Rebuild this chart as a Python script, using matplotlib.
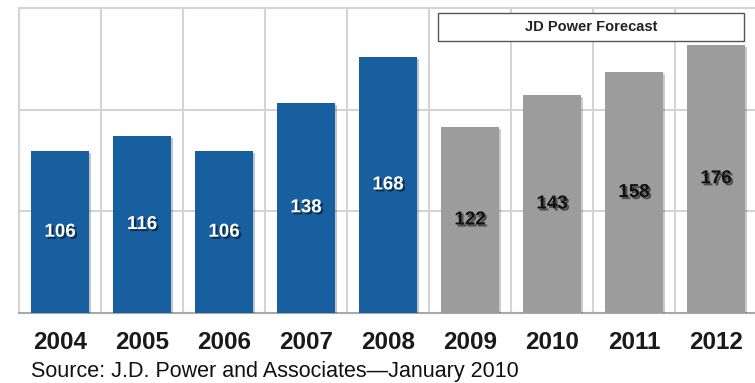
import matplotlib
matplotlib.use('Agg')
import matplotlib.pyplot as plt
import matplotlib.patheffects as pe
from matplotlib.patches import Rectangle

plt.rcParams['font.family'] = ['Liberation Sans', 'DejaVu Sans']

# Data
years = ['2004', '2005', '2006', '2007', '2008', '2009', '2010', '2011', '2012']
values = [106, 116, 106, 138, 168, 122, 143, 158, 176]
is_forecast = [False, False, False, False, False, True, True, True, True]
forecast_label = 'JD Power Forecast'
source_text = 'Source: J.D. Power and Associates\u2014January 2010'

blue = '#185f9f'
gray = '#9c9c9c'
grid_col = '#d4d4d4'

W, H = 755, 383
fig = plt.figure(figsize=(W / 100, H / 100), dpi=100)
ax = fig.add_axes([19 / W, 70 / H, 738 / W, 305 / H])

x = list(range(len(years)))
colors = [gray if f else blue for f in is_forecast]
bars = ax.bar(x, values, width=0.71, color=colors, zorder=3)
for b in bars:
    b.set_path_effects([pe.SimplePatchShadow(offset=(1.5, -1.5), alpha=0.25), pe.Normal()])

ax.set_xlim(-0.5, len(years) - 0.5)
ax.set_ylim(0, 200)

# grid
for gx in range(len(years)):
    ax.axvline(gx - 0.5, color=grid_col, lw=1.5, zorder=1)
for gy in (200 / 3, 400 / 3):
    ax.axhline(gy, color=grid_col, lw=1.5, zorder=1)

ax.spines['right'].set_visible(False)
ax.spines['top'].set_color(grid_col)
ax.spines['top'].set_linewidth(1.5)
ax.spines['left'].set_color(grid_col)
ax.spines['left'].set_linewidth(1.5)
ax.spines['bottom'].set_color('#a8a8a8')
ax.spines['bottom'].set_linewidth(1.5)

ax.set_yticks([])
ax.set_xticks(x)
ax.set_xticklabels(years, fontsize=17.5, fontweight='bold', color='#1a1a1a')
ax.tick_params(axis='x', length=0, pad=13)

# value labels in the middle of each bar
for xi, v, f in zip(x, values, is_forecast):
    tc = '#111111' if f else 'white'
    ax.text(xi, v / 2, str(v), ha='center', va='center', fontsize=13.5,
            fontweight='bold', color=tc, zorder=5,
            path_effects=[pe.withSimplePatchShadow(offset=(1.5, -1.5),
                                                   shadow_rgbFace='black', alpha=0.5)])

# forecast box
box = Rectangle((4.61, 178.6), 3.73, 18.4, facecolor='white', edgecolor='#555555',
                lw=1.0, zorder=4)
ax.add_patch(box)
ax.text(4.61 + 3.73 / 2, 178.6 + 9.2, forecast_label, ha='center', va='center',
        fontsize=10.5, fontweight='bold', color='#222222', zorder=5)

fig.text(31 / W, 1 - 377 / H, source_text, ha='left', va='baseline', fontsize=15.5,
         color='#111111')

fig.savefig('out.png', dpi=100)
